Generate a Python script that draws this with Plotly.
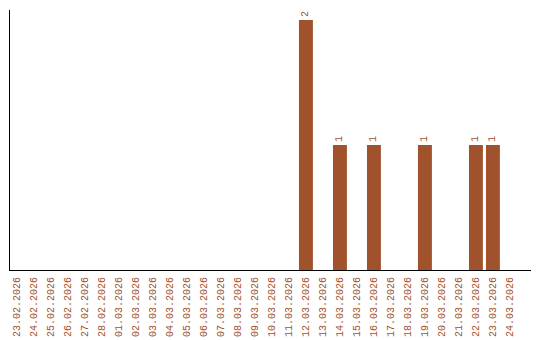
import plotly.graph_objects as go

dates = ["23.02.2026", "24.02.2026", "25.02.2026", "26.02.2026", "27.02.2026", "28.02.2026",
         "01.03.2026", "02.03.2026", "03.03.2026", "04.03.2026", "05.03.2026", "06.03.2026",
         "07.03.2026", "08.03.2026", "09.03.2026", "10.03.2026", "11.03.2026", "12.03.2026",
         "13.03.2026", "14.03.2026", "15.03.2026", "16.03.2026", "17.03.2026", "18.03.2026",
         "19.03.2026", "20.03.2026", "21.03.2026", "22.03.2026", "23.03.2026", "24.03.2026"]
counts = [0, 0, 0, 0, 0, 0,
          0, 0, 0, 0, 0, 0,
          0, 0, 0, 0, 0, 2,
          0, 1, 0, 1, 0, 0,
          1, 0, 0, 1, 1, 0]

color = "#A0522D"
labels = [str(v) if v > 0 else "" for v in counts]

fig = go.Figure(go.Bar(
    x=dates, y=counts, marker_color=color, marker_line_width=0,
    width=0.82, text=labels, textposition="outside", textangle=-90,
    textfont=dict(family="Liberation Mono", size=10, color=color),
    cliponaxis=False,
))
fig.update_layout(
    width=540, height=340,
    margin=dict(l=10, r=9, t=10, b=70, autoexpand=False),
    paper_bgcolor="white", plot_bgcolor="white",
    showlegend=False,
    xaxis=dict(type="category", range=[-0.41, 30.24], showgrid=False, automargin=False,
               showline=True, linecolor="black", linewidth=1, ticks="", ticklen=0,
               ticklabelstandoff=2,
               tickangle=-90, tickfont=dict(family="Liberation Mono", size=10, color=color)),
    yaxis=dict(range=[0, 2.08], showgrid=False, zeroline=False, showline=True, automargin=False,
               linecolor="black", linewidth=1, ticks="", showticklabels=False),
)
fig.write_html("out.html")
